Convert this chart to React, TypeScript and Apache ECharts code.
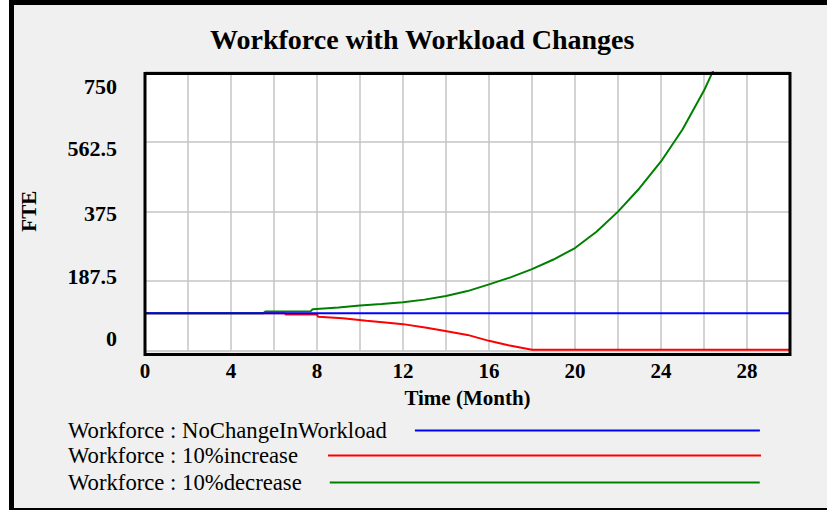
import React, { useEffect, useRef } from "react";
import * as echarts from "echarts";

// ---- data ----
const chartTitle = "Workforce with Workload Changes";
const xAxisName = "Time (Month)";
const yAxisName = "FTE";
const seriesNames = [
  "Workforce : NoChangeInWorkload",
  "Workforce : 10%increase",
  "Workforce : 10%decrease",
];
const seriesColors = ["#0000ff", "#ff0000", "#008000"];

// [month, FTE]
const noChangeData: [number, number][] = [
  [0, 100],
  [30, 100],
];
const increaseData: [number, number][] = [
  [0, 100], [6.5, 100], [6.55, 97], [8, 97], [8.05, 91], [9.2, 87],
  [10.3, 80], [11.3, 75], [12, 71], [13.1, 61], [13.9, 53], [15, 42],
  [16, 26], [16.9, 14], [18, 2], [30, 2],
];
const decreaseData: [number, number][] = [
  [0, 100], [5.5, 100], [5.6, 105], [7.7, 106], [7.8, 111], [9, 116],
  [10, 121], [11, 125], [12, 130], [13, 137], [14, 147], [15, 160],
  [16, 178], [17, 197], [18, 219], [19, 245], [20, 276], [21, 320],
  [22, 374], [23, 437], [24, 509], [25, 595], [26, 700], [26.6, 775],
];
const xMin = 0;
const xMax = 30;
const xInterval = 2;
const xLabelEvery = 4;
const yMin = 0;
const yMax = 750;
const yInterval = 187.5;
const yTickLabels = ["0", "187.5", "375", "562.5", "750"];

// ---- style ----
const FONT = "'Liberation Serif', 'Times New Roman', serif";
const yLabelShift = [-12, -4, 2, 7, 14];
const AXIS_FONT = 21;

export default function App() {
  const ref = useRef<HTMLDivElement>(null);
  useEffect(() => {
    if (!ref.current) return;
    const chart = echarts.init(ref.current, undefined, { renderer: "svg" });
    const rich: Record<string, any> = {};
    yLabelShift.forEach((d, i) => {
      rich["r" + i] = {
        fontFamily: FONT,
        fontWeight: "bold",
        fontSize: 22,
        color: "#000",
        padding: d >= 0 ? [2 * d, 0, 0, 0] : [0, 0, -2 * d, 0],
      };
    });
    const legendTops = [419, 444, 471];
    const legendGaps = [28, 30, 28];
    const legendItemWidths = [345, 433, 430];
    const datasets = [noChangeData, increaseData, decreaseData];
    chart.setOption({
      animation: false,
      backgroundColor: "#f0f0f0",
      title: {
        text: chartTitle,
        left: 210,
        top: 25,
        padding: 0,
        textStyle: { fontFamily: FONT, fontWeight: "bold", fontSize: 28, color: "#000" },
      },
      grid: {
        left: 145,
        right: 37,
        top: 72,
        bottom: 159.5,
        show: true,
        backgroundColor: "#ffffff",
        borderWidth: 0,
      },
      legend: seriesNames.map((name, i) => ({
        data: [name],
        left: 68,
        top: legendTops[i],
        padding: 0,
        align: "right",
        icon: "rect",
        itemWidth: legendItemWidths[i],
        itemHeight: 2,
        selectedMode: false,
        textStyle: {
          fontFamily: FONT,
          fontSize: 22.7,
          color: "#000",
          padding: [0, legendGaps[i] - 5, 0, 0],
        },
      })),
      xAxis: {
        type: "value",
        min: xMin,
        max: xMax,
        interval: xInterval,
        name: xAxisName,
        nameLocation: "middle",
        nameGap: 37,
        nameTextStyle: { fontFamily: FONT, fontWeight: "bold", fontSize: AXIS_FONT, color: "#000" },
        axisLine: { show: false },
        axisTick: { show: false },
        axisLabel: {
          margin: 10,
          fontFamily: FONT,
          fontWeight: "bold",
          fontSize: AXIS_FONT,
          color: "#000",
          formatter: (v: number) => (v % xLabelEvery === 0 && v < xMax ? String(v) : ""),
        },
        splitLine: { show: true, lineStyle: { color: "#c4c4c4", width: 1.5 } },
      },
      yAxis: {
        type: "value",
        min: yMin,
        max: yMax,
        interval: yInterval,
        name: yAxisName,
        nameLocation: "middle",
        nameGap: 106,
        nameRotate: 90,
        nameTextStyle: { fontFamily: FONT, fontWeight: "bold", fontSize: AXIS_FONT, color: "#000" },
        axisLine: { show: false },
        axisTick: { show: false },
        axisLabel: {
          margin: 28,
          fontFamily: FONT,
          fontWeight: "bold",
          fontSize: 22,
          color: "#000",
          formatter: (v: number, i: number) => `{r${i}|${yTickLabels[i] ?? v}}`,
          rich,
        },
        splitLine: { show: true, lineStyle: { color: "#c4c4c4", width: 1.5 } },
      },
      series: seriesNames.map((name, i) => ({
        name,
        type: "line",
        data: datasets[i],
        showSymbol: false,
        clip: true,
        z: i === 0 ? 4 : 3,
        color: seriesColors[i],
        lineStyle: { color: seriesColors[i], width: 2 },
      })),
      graphic: [
        { type: "rect", shape: { x: 0, y: 0, width: 9, height: 510 }, style: { fill: "#ffffff" }, z: 100 },
        { type: "rect", shape: { x: 9, y: 0, width: 5, height: 510 }, style: { fill: "#000" }, z: 100 },
        { type: "rect", shape: { x: 9, y: 0, width: 818, height: 5 }, style: { fill: "#000" }, z: 100 },
        { type: "rect", shape: { x: 9, y: 508, width: 818, height: 2 }, style: { fill: "#000" }, z: 100 },
        {
          type: "rect",
          shape: { x: 145, y: 73.5, width: 645, height: 281 },
          style: { fill: "none", stroke: "#000", lineWidth: 3 },
          z: 100,
        },
      ],
    });
    return () => chart.dispose();
  }, []);
  return (
    <div
      ref={ref}
      style={{ position: "fixed", left: 0, top: 0, width: 827, height: 510 }}
    />
  );
}
